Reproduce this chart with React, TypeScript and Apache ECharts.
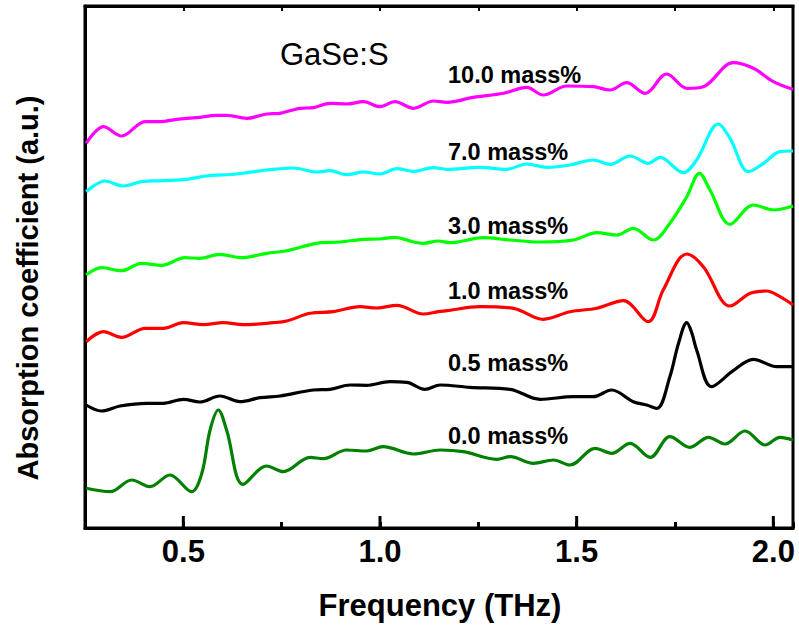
import React, { useEffect, useRef } from "react";
import * as echarts from "echarts";

// Frequency (THz) and absorption (a.u., vertically offset traces)
const freq10 = [0.253, 0.297, 0.343, 0.403, 0.441, 0.483, 0.534, 0.585, 0.610, 0.661, 0.712, 0.746, 0.797, 0.830, 0.873, 0.915, 0.958, 1.000, 1.038, 1.085, 1.136, 1.170, 1.237, 1.314, 1.373, 1.415, 1.475, 1.542, 1.585, 1.627, 1.674, 1.729, 1.780, 1.822, 1.898, 1.949, 2.000, 2.050];
const abs10 = [3.847, 4.013, 3.920, 4.063, 4.063, 4.087, 4.103, 4.127, 4.127, 4.097, 4.140, 4.147, 4.197, 4.203, 4.247, 4.240, 4.263, 4.213, 4.263, 4.197, 4.270, 4.257, 4.307, 4.347, 4.407, 4.330, 4.420, 4.413, 4.380, 4.453, 4.347, 4.540, 4.397, 4.413, 4.653, 4.597, 4.463, 4.387];

const freq7 = [0.253, 0.301, 0.347, 0.394, 0.449, 0.509, 0.559, 0.636, 0.712, 0.780, 0.839, 0.873, 0.915, 0.958, 1.000, 1.043, 1.085, 1.136, 1.170, 1.254, 1.322, 1.373, 1.424, 1.483, 1.542, 1.585, 1.636, 1.682, 1.712, 1.771, 1.805, 1.860, 1.890, 1.937, 1.975, 2.017, 2.050];
const abs7 = [3.363, 3.470, 3.420, 3.463, 3.473, 3.487, 3.520, 3.540, 3.580, 3.600, 3.560, 3.573, 3.533, 3.560, 3.540, 3.593, 3.567, 3.603, 3.587, 3.607, 3.587, 3.640, 3.607, 3.630, 3.680, 3.637, 3.720, 3.647, 3.707, 3.553, 3.680, 4.040, 3.897, 3.563, 3.647, 3.763, 3.770];

const freq3 = [0.253, 0.292, 0.343, 0.394, 0.445, 0.504, 0.542, 0.593, 0.648, 0.712, 0.763, 0.839, 0.898, 0.958, 1.000, 1.038, 1.085, 1.110, 1.148, 1.178, 1.263, 1.331, 1.407, 1.492, 1.551, 1.602, 1.644, 1.695, 1.737, 1.780, 1.812, 1.839, 1.890, 1.949, 2.000, 2.050];
const abs3 = [2.530, 2.603, 2.573, 2.647, 2.627, 2.703, 2.697, 2.737, 2.703, 2.747, 2.773, 2.847, 2.860, 2.887, 2.890, 2.907, 2.860, 2.847, 2.870, 2.853, 2.903, 2.880, 2.860, 2.880, 2.953, 2.930, 2.997, 2.880, 3.047, 3.313, 3.547, 3.380, 3.037, 3.230, 3.180, 3.220];

const freq1 = [0.253, 0.297, 0.343, 0.403, 0.449, 0.500, 0.551, 0.602, 0.652, 0.729, 0.763, 0.822, 0.881, 0.949, 0.992, 1.043, 1.110, 1.148, 1.170, 1.254, 1.339, 1.415, 1.483, 1.551, 1.619, 1.682, 1.720, 1.780, 1.822, 1.890, 1.941, 1.983, 2.017, 2.050];
const abs1 = [1.863, 1.963, 1.907, 1.997, 1.997, 2.053, 2.033, 2.053, 2.033, 2.053, 2.070, 2.147, 2.163, 2.213, 2.200, 2.227, 2.140, 2.163, 2.173, 2.213, 2.197, 2.087, 2.163, 2.197, 2.273, 2.063, 2.380, 2.740, 2.613, 2.220, 2.347, 2.370, 2.313, 2.230];

const freq05 = [0.253, 0.292, 0.339, 0.407, 0.449, 0.500, 0.542, 0.593, 0.644, 0.695, 0.746, 0.830, 0.873, 0.924, 0.966, 1.025, 1.068, 1.114, 1.153, 1.229, 1.331, 1.407, 1.492, 1.542, 1.589, 1.644, 1.678, 1.704, 1.737, 1.759, 1.780, 1.793, 1.805, 1.843, 1.898, 1.949, 2.009, 2.050];
const abs05 = [1.230, 1.170, 1.220, 1.247, 1.247, 1.287, 1.260, 1.320, 1.263, 1.303, 1.320, 1.380, 1.387, 1.430, 1.427, 1.463, 1.457, 1.387, 1.430, 1.407, 1.387, 1.287, 1.313, 1.313, 1.380, 1.263, 1.230, 1.197, 1.513, 1.847, 2.053, 1.947, 1.780, 1.413, 1.573, 1.687, 1.613, 1.613];

const freq0 = [0.253, 0.314, 0.369, 0.415, 0.466, 0.521, 0.547, 0.568, 0.589, 0.610, 0.652, 0.712, 0.754, 0.822, 0.856, 0.915, 0.966, 1.008, 1.085, 1.153, 1.212, 1.297, 1.331, 1.390, 1.441, 1.483, 1.547, 1.589, 1.636, 1.687, 1.737, 1.788, 1.835, 1.877, 1.928, 1.979, 2.017, 2.050];
const abs0 = [0.397, 0.363, 0.480, 0.413, 0.530, 0.363, 0.547, 0.980, 1.180, 0.980, 0.437, 0.620, 0.563, 0.707, 0.693, 0.780, 0.770, 0.813, 0.740, 0.780, 0.763, 0.687, 0.713, 0.647, 0.680, 0.630, 0.797, 0.747, 0.847, 0.707, 0.913, 0.807, 0.907, 0.840, 0.970, 0.830, 0.907, 0.880];

const seriesNames = ["10.0 mass%", "7.0 mass%", "3.0 mass%", "1.0 mass%", "0.5 mass%", "0.0 mass%"];
const seriesFreqs = [freq10, freq7, freq3, freq1, freq05, freq0];
const seriesAbs = [abs10, abs7, abs3, abs1, abs05, abs0];
const seriesColors = ["#ff00ff", "#00ffff", "#00ff00", "#ff0000", "#000000", "#008000"];
const labelYs = [75, 152, 226, 291, 363, 436];

const majorTickValues = [0.5, 1.0, 1.5, 2.0];

const FONT = "'Liberation Sans', Arial, Helvetica, sans-serif";

export default function App() {
  const ref = useRef<HTMLDivElement>(null);
  useEffect(() => {
    if (!ref.current) return;
    const chart = echarts.init(ref.current, undefined, { renderer: "svg" });
    const lines = seriesNames.map((name, i) => ({
      name,
      type: "line",
      data: seriesFreqs[i].map((f, j) => [f, seriesAbs[i][j]]),
      smooth: 0.35,
      showSymbol: false,
      symbol: "none",
      lineStyle: { color: seriesColors[i], width: 3.2 },
      itemStyle: { color: seriesColors[i] },
      z: 3,
    }));
    const option: any = {
      animation: false,
      backgroundColor: "#ffffff",
      grid: {
        left: 85,
        right: 6,
        top: 6,
        bottom: 102,
        show: true,
        borderColor: "#000",
        borderWidth: 3,
        backgroundColor: "transparent",
      },
      xAxis: [
        {
          type: "value",
          position: "bottom",
          min: 0.25,
          max: 2.05,
          interval: 0.25,
          axisLine: { show: true, lineStyle: { color: "#000", width: 3 } },
          axisTick: { show: true, inside: true, length: 6, lineStyle: { color: "#000", width: 3 } },
          splitLine: { show: false },
          axisLabel: {
            show: true,
            margin: 8,
            color: "#000",
            fontFamily: FONT,
            fontWeight: "bold",
            fontSize: 31,
            formatter: (v: number) =>
              Math.abs(v * 2 - Math.round(v * 2)) < 1e-6 ? v.toFixed(1) : "",
          },
        },
        {
          type: "value",
          position: "top",
          min: 0.25,
          max: 2.05,
          interval: 0.25,
          axisLine: { show: true, lineStyle: { color: "#000", width: 3 } },
          axisTick: { show: true, inside: true, length: 5, lineStyle: { color: "#000", width: 2 } },
          splitLine: { show: false },
          axisLabel: { show: false },
        },
      ],
      yAxis: [
        {
          type: "value",
          min: 0,
          max: 5.22,
          axisLine: { show: true, lineStyle: { color: "#000", width: 3 } },
          axisTick: { show: false },
          axisLabel: { show: false },
          splitLine: { show: false },
        },
      ],
      series: [
        ...lines,
        {
          type: "custom",
          name: "major ticks",
          data: majorTickValues.map((v) => [v]),
          clip: false,
          silent: true,
          z: 5,
          renderItem: (_params: any, api: any) => {
            const p = api.coord([api.value(0), 0]);
            return {
              type: "line",
              shape: { x1: p[0], y1: p[1], x2: p[0], y2: p[1] - 12 },
              style: { stroke: "#000", lineWidth: 3 },
            };
          },
        },
      ],
      graphic: [
        {
          type: "text",
          x: 280,
          y: 54,
          style: {
            text: "GaSe:S",
            font: `normal 31px ${FONT}`,
            fill: "#000",
            align: "left",
            verticalAlign: "middle",
          },
        },
        ...seriesNames.map((name, i) => ({
          type: "text",
          x: 448,
          y: labelYs[i],
          style: {
            text: name,
            font: `bold 23.5px ${FONT}`,
            fill: "#000",
            align: "left",
            verticalAlign: "middle",
          },
        })),
        {
          type: "text",
          x: 440,
          y: 605,
          style: {
            text: "Frequency (THz)",
            font: `bold 31px ${FONT}`,
            fill: "#000",
            align: "center",
            verticalAlign: "middle",
          },
        },
        {
          type: "text",
          x: 28,
          y: 288,
          rotation: Math.PI / 2,
          style: {
            text: "Absorption coefficient (a.u.)",
            font: `bold 29px ${FONT}`,
            fill: "#000",
            align: "center",
            verticalAlign: "middle",
          },
        },
      ],
    };
    chart.setOption(option);
    return () => chart.dispose();
  }, []);
  return (
    <div
      ref={ref}
      style={{ position: "fixed", left: 0, top: 0, width: 799, height: 630, background: "#fff" }}
    />
  );
}
